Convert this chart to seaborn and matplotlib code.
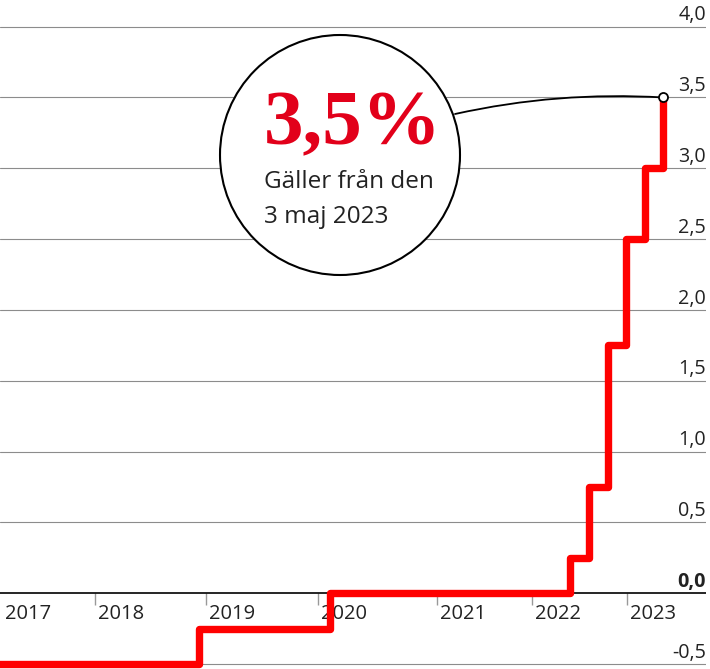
import numpy as np
import pandas as pd
import matplotlib
matplotlib.use("Agg")
import matplotlib.pyplot as plt
from matplotlib.patches import Circle
import seaborn as sns

# Riksbankens styrränta, datum som decimalår
change_dates = [2016.90, 2018.891, 2020.149, 2022.453, 2022.635, 2022.817, 2022.990, 2023.173, 2023.345]
rates = [-0.5, -0.25, 0.0, 0.25, 0.75, 1.75, 2.5, 3.0, 3.5]

years = ["2017", "2018", "2019", "2020", "2021", "2022", "2023"]
year_pos = [2017.0, 2017.893, 2018.958, 2020.033, 2021.176, 2022.088, 2023.0]

y_ticks = [-0.5, 0.0, 0.5, 1.0, 1.5, 2.0, 2.5, 3.0, 3.5, 4.0]
y_labels = ["-0,5", "0,0", "0,5", "1,0", "1,5", "2,0", "2,5", "3,0", "3,5", "4,0"]

big_text = "3,5%"
sub_text = ["Gäller från den", "3 maj 2023"]

df = pd.DataFrame({"datum": change_dates, "ranta": rates})

sns.set_style("white")
plt.rcParams["font.family"] = ["Open Sans", "DejaVu Sans"]

fig = plt.figure(figsize=(7.10, 6.69), dpi=100)
ax = fig.add_axes([0, 0, 706 / 710, 1])
ax.set_xlim(2016.98, 2023.758)
ax.set_ylim(-0.535, 4.188)
ax.axis("off")

grid_col = "#8c8c8c"
txt_col = "#222222"

# rutnät och y-etiketter
for v, lab in zip(y_ticks, y_labels):
    if v == 0:
        ax.axhline(0, color="black", lw=1.2, zorder=2)
    else:
        ax.axhline(v, color=grid_col, lw=0.8, zorder=1)
    ax.annotate(lab, (1, v), xycoords=("axes fraction", "data"),
                xytext=(0, 4.5), textcoords="offset points",
                ha="right", va="baseline", fontsize=14.2, color=txt_col,
                fontweight="bold" if v == 0 else "normal")

# år-ticks och etiketter
for pos, lab in zip(year_pos, years):
    if pos > 2017.5:
        ax.vlines(pos, -0.085, 0, color="#999999", lw=1, zorder=1)
    ax.annotate(lab, (pos, 0), xytext=(2.2, -18.7), textcoords="offset points",
                ha="left", va="baseline", fontsize=14.5, color=txt_col)

sns.lineplot(data=df, x="datum", y="ranta", ax=ax, color="#ff0000", lw=5.3,
             drawstyle="steps-post", estimator=None, zorder=3, legend=False)
ax.axis("off")

# markör vid senaste värdet
ax.plot(df["datum"].iloc[-1], df["ranta"].iloc[-1], "o", ms=6.5, mfc="white",
        mec="black", mew=1.3, zorder=6)

# cirkeln med texten
circ = Circle((3.40, 6.69 - 1.55), 1.20, transform=fig.dpi_scale_trans,
              facecolor="white", edgecolor="black", lw=1.5, zorder=4)
ax.add_artist(circ)

ax.annotate("", xy=(df["datum"].iloc[-1], df["ranta"].iloc[-1]),
            xytext=(455, 669 - 114), textcoords="figure pixels",
            arrowprops=dict(arrowstyle="-", color="black", lw=1.3,
                            connectionstyle="arc3,rad=-0.07",
                            shrinkA=0, shrinkB=0), zorder=5)

fig.text(264 / 710, 1 - 144 / 669, big_text, fontsize=57, fontweight="bold",
         family=["Liberation Serif", "DejaVu Serif"], color="#e2001a",
         ha="left", va="baseline", zorder=7)
fig.text(264 / 710, 1 - 188 / 669, sub_text[0], fontsize=17.5, color=txt_col,
         ha="left", va="baseline", zorder=7)
fig.text(264 / 710, 1 - 223 / 669, sub_text[1], fontsize=17.5, color=txt_col,
         ha="left", va="baseline", zorder=7)

fig.savefig("out.png", dpi=100)
